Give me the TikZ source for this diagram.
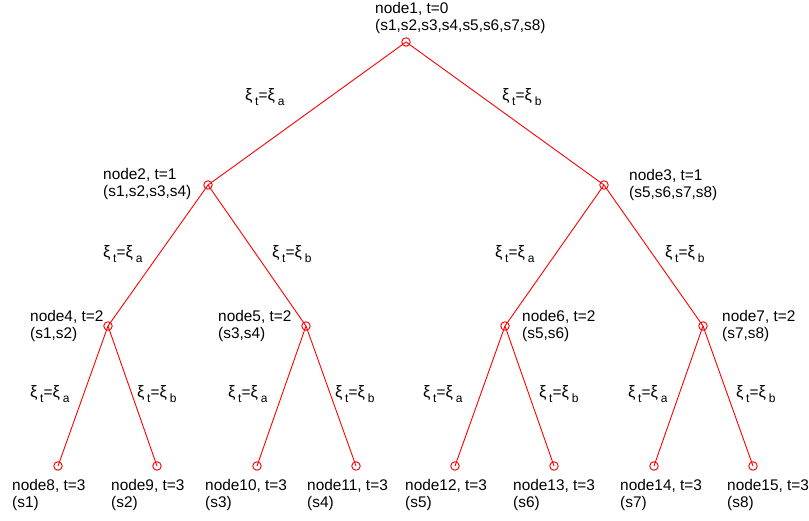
\documentclass[tikz,border=0pt]{standalone}
\usepackage{fontspec}
\setmainfont{Liberation Sans}
\newcommand{\xilab}[1]{{\fontsize{16.5}{17}\selectfont ξ}\hspace{2.6pt}\raisebox{-4.5pt}{\fontsize{12}{12}\selectfont t}=%
{\fontsize{16.5}{17}\selectfont ξ}\hspace{3pt}\raisebox{-5pt}{\fontsize{12}{12}\selectfont #1}}
\begin{document}
\begin{tikzpicture}[x=1pt,y=-1pt,
  tnode/.style={circle,draw=red,line width=0.9pt,minimum size=8.5pt,inner sep=0pt},
  edge/.style={draw=red,line width=0.9pt},
  info/.style={anchor=west,align=left,inner sep=0pt,font=\fontsize{15.4}{17}\selectfont},
  elab/.style={anchor=base west,inner sep=0pt,font=\fontsize{15.4}{17}\selectfont}]
\useasboundingbox (0,0) rectangle (809,521);
% tree vertices
\node[tnode] (n1) at (406,42) {};
\node[tnode] (n2) at (208,185) {};
\node[tnode] (n3) at (604,185) {};
\node[tnode] (n4) at (108,326) {};
\node[tnode] (n5) at (306,326) {};
\node[tnode] (n6) at (505,326) {};
\node[tnode] (n7) at (703,326) {};
\node[tnode] (n8) at (58,466) {};
\node[tnode] (n9) at (157,466) {};
\node[tnode] (n10) at (257,466) {};
\node[tnode] (n11) at (356,466) {};
\node[tnode] (n12) at (455,466) {};
\node[tnode] (n13) at (554,466) {};
\node[tnode] (n14) at (654,466) {};
\node[tnode] (n15) at (753,466) {};
% branches
\draw[edge] (n1.center) -- (n2.center);
\draw[edge] (n1.center) -- (n3.center);
\draw[edge] (n2.center) -- (n4.center);
\draw[edge] (n2.center) -- (n5.center);
\draw[edge] (n3.center) -- (n6.center);
\draw[edge] (n3.center) -- (n7.center);
\draw[edge] (n4.center) -- (n8.center);
\draw[edge] (n4.center) -- (n9.center);
\draw[edge] (n5.center) -- (n10.center);
\draw[edge] (n5.center) -- (n11.center);
\draw[edge] (n6.center) -- (n12.center);
\draw[edge] (n6.center) -- (n13.center);
\draw[edge] (n7.center) -- (n14.center);
\draw[edge] (n7.center) -- (n15.center);
% vertex descriptions
\node[info] (t1) at (375,18.5) {node1, t=0\\(s1,s2,s3,s4,s5,s6,s7,s8)};
\node[info] (t2) at (103,184.5) {node2, t=1\\(s1,s2,s3,s4)};
\node[info] (t3) at (629,185.5) {node3, t=1\\(s5,s6,s7,s8)};
\node[info] (t4) at (30,326) {node4, t=2\\(s1,s2)};
\node[info] (t5) at (218,326) {node5, t=2\\(s3,s4)};
\node[info] (t6) at (522,326) {node6, t=2\\(s5,s6)};
\node[info] (t7) at (722,326) {node7, t=2\\(s7,s8)};
\node[info] (t8) at (12,495) {node8, t=3\\(s1)};
\node[info] (t9) at (111,495) {node9, t=3\\(s2)};
\node[info] (t10) at (205,495) {node10, t=3\\(s3)};
\node[info] (t11) at (307,495) {node11, t=3\\(s4)};
\node[info] (t12) at (405,495) {node12, t=3\\(s5)};
\node[info] (t13) at (513,495) {node13, t=3\\(s6)};
\node[info] (t14) at (620,495) {node14, t=3\\(s7)};
\node[info] (t15) at (727,495) {node15, t=3\\(s8)};
% branch labels
\node[elab] (e12) at (245,101) {\xilab{a}};
\node[elab] (e13) at (502,101) {\xilab{b}};
\node[elab] (e24) at (103,258) {\xilab{a}};
\node[elab] (e25) at (272,258) {\xilab{b}};
\node[elab] (e36) at (495,258) {\xilab{a}};
\node[elab] (e37) at (665,258) {\xilab{b}};
\node[elab] (e48) at (30,398) {\xilab{a}};
\node[elab] (e49) at (137,398) {\xilab{b}};
\node[elab] (e510) at (228,398) {\xilab{a}};
\node[elab] (e511) at (335,398) {\xilab{b}};
\node[elab] (e612) at (423,398) {\xilab{a}};
\node[elab] (e613) at (539,398) {\xilab{b}};
\node[elab] (e714) at (628,398) {\xilab{a}};
\node[elab] (e715) at (736,398) {\xilab{b}};
\end{tikzpicture}
\end{document}
